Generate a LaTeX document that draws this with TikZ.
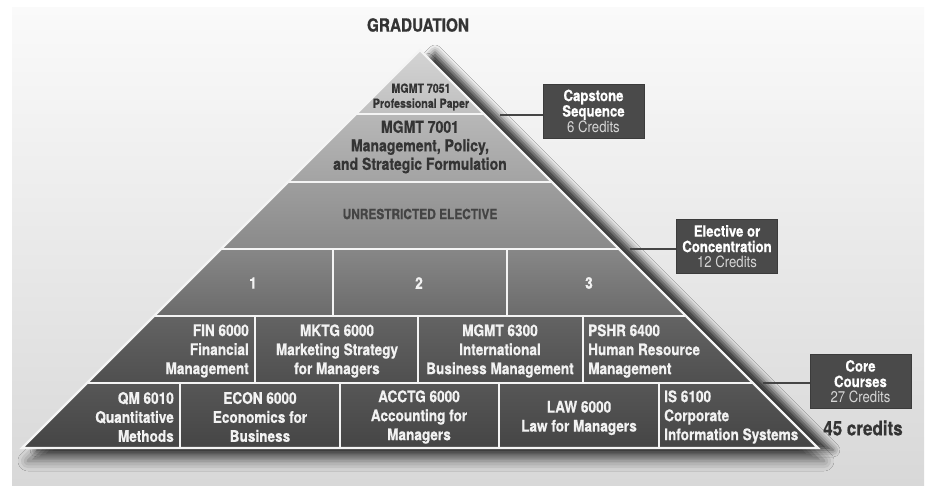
\documentclass[tikz,border=0pt]{standalone}
\usepackage{fontspec}
\setmainfont{TeX Gyre Heros}[FakeStretch=0.85,BoldFeatures={FakeBold=0.6}]
\usetikzlibrary{shadows.blur}
\definecolor{bgtop}{HTML}{FAFAFA}
\definecolor{bgbot}{HTML}{D8D8D8}
\definecolor{boxgray}{HTML}{4A4A4A}
\definecolor{tdark}{HTML}{343434}
\definecolor{tmid}{HTML}{444444}
\definecolor{tlight}{HTML}{F2F2F2}
\definecolor{credgray}{HTML}{D6D6D6}
\definecolor{linegray}{HTML}{454545}
\definecolor{sepwhite}{HTML}{F4F4F4}
\begin{document}
\begin{tikzpicture}[x=1pt,y=-1pt,
  sep/.style={draw=sepwhite,line width=2.2pt},
  dk/.style={align=center,text=tdark,inner sep=0pt},
  wt/.style={align=center,text=tlight,inner sep=0pt,font=\bfseries\fontsize{16}{19}\selectfont},
  credbox/.style={fill=boxgray,draw=boxgray!80!black,line width=0.6pt,minimum width=101pt,minimum height=54pt,inner sep=0pt,align=center,text=white,font=\bfseries\fontsize{15.5}{15.5}\selectfont},
  conn/.style={draw=linegray,line width=1.5pt}]
\useasboundingbox (0,0) rectangle (931,486);
% background
\shade[top color=bgtop,bottom color=bgbot] (12,8) rectangle (924,486);
% shadows
\path[blur shadow={shadow xshift=6pt,shadow yshift=-13pt,shadow blur radius=10pt,shadow opacity=55}] (420,50) -- (818,448) -- (22,448) -- cycle;
\path[blur shadow={shadow xshift=15pt,shadow yshift=-2pt,shadow blur radius=7pt,shadow opacity=75}] (420,50) -- (818,448) -- (22,448) -- cycle;
% tiers
\shade[top color=white!83!black,bottom color=white!75!black] (420,50) -- (484,114) -- (356,114) -- cycle;
\shade[top color=white!72!black,bottom color=white!64!black] (356,114) -- (484,114) -- (552,182) -- (288,182) -- cycle;
\shade[top color=white!62!black,bottom color=white!54!black] (288,182) -- (552,182) -- (619,249) -- (221,249) -- cycle;
\shade[top color=white!53!black,bottom color=white!42!black] (221,249) -- (619,249) -- (686,316) -- (154,316) -- cycle;
\shade[top color=white!39!black,bottom color=white!31!black] (154,316) -- (686,316) -- (753,383) -- (87,383) -- cycle;
\shade[top color=white!34!black,bottom color=white!27!black] (87,383) -- (753,383) -- (818,448) -- (22,448) -- cycle;
% white separators
\draw[sep,line join=miter] (420,50) -- (818,448) -- (22,448) -- cycle;
\draw[sep] (356,114) -- (484,114);
\draw[sep] (288,182) -- (552,182);
\draw[sep] (221,249) -- (619,249);
\draw[sep] (154,316) -- (686,316);
\draw[sep] (87,383) -- (753,383);
\draw[sep] (333,249) -- (333,316);
\draw[sep] (507,249) -- (507,316);
\draw[sep] (255,316) -- (255,383);
\draw[sep] (418,316) -- (418,383);
\draw[sep] (583,316) -- (583,383);
\draw[sep] (180,383) -- (180,448);
\draw[sep] (340,383) -- (340,448);
\draw[sep] (499,383) -- (499,448);
\draw[sep] (659,383) -- (659,448);
% title
\node[text=tdark,font=\bfseries\fontsize{18}{20}\selectfont,inner sep=0pt] (grad) at (418,25) {GRADUATION};
% tier texts
\node[dk,font=\bfseries\fontsize{12.5}{15}\selectfont] (t1) at (421,97) {MGMT 7051\\Professional Paper};
\node[dk,font=\bfseries\fontsize{16.5}{18.5}\selectfont] (t2) at (420,147) {MGMT 7001\\Management, Policy,\\and Strategic Formulation};
\node[dk,text=tmid,font=\bfseries\fontsize{14}{16}\selectfont] (t3) at (420,214) {UNRESTRICTED ELECTIVE};
\node[wt] (e1) at (253,283) {1};
\node[wt] (e2) at (419,283) {2};
\node[wt] (e3) at (589,283) {3};
\node[wt,align=right,anchor=east] (fin) at (249,351) {FIN 6000\\Financial\\Management};
\node[wt] (mktg) at (337,351) {MKTG 6000\\Marketing Strategy\\for Managers};
\node[wt] (mgmt) at (500,351) {MGMT 6300\\International\\Business Management};
\node[wt,align=left,anchor=west] (pshr) at (588,351) {PSHR 6400\\Human Resource\\Management};
\node[wt,align=right,anchor=east] (qm) at (174,417) {QM 6010\\Quantitative\\Methods};
\node[wt] (econ) at (260,417) {ECON 6000\\Economics for\\Business};
\node[wt] (acctg) at (419,417) {ACCTG 6000\\Accounting for\\Managers};
\node[wt] (law) at (579,418) {LAW 6000\\Law for Managers};
\node[wt,align=left,anchor=west] (is) at (664,417) {IS 6100\\Corporate\\Information Systems};
% credit boxes
\node[credbox] (cap) at (593.5,111) {Capstone\\Sequence\\{\mdseries\color{credgray}6 Credits}};
\node[credbox] (ele) at (727,246.5) {Elective or\\Concentration\\{\mdseries\color{credgray}12 Credits}};
\node[credbox] (core) at (860.5,381.5) {Core\\Courses\\{\mdseries\color{credgray}27 Credits}};
\node[text=tdark,font=\bfseries\fontsize{20}{22}\selectfont,inner sep=0pt] (total) at (863,428) {45 credits};
% connectors
\coordinate (c1) at (500,115);
\coordinate (c2) at (630,249);
\coordinate (c3) at (763,383);
\draw[conn] (c1) -- (c1 -| cap.west);
\draw[conn] (c2) -- (c2 -| ele.west);
\draw[conn] (c3) -- (c3 -| core.west);
\end{tikzpicture}
\end{document}
